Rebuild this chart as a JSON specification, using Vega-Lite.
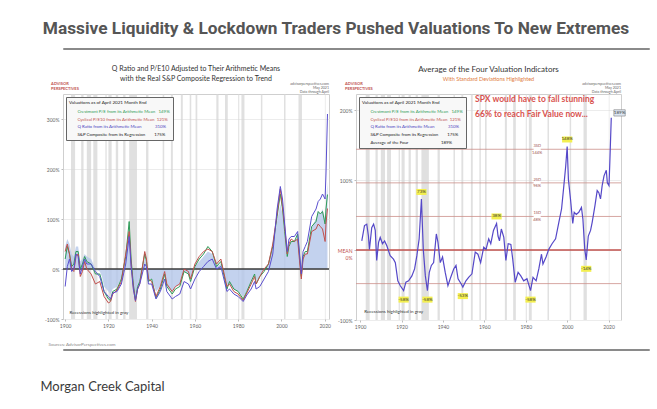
{
"$schema": "https://vega.github.io/schema/vega-lite/v6.json",
"background": "white",
"padding": {"left": 40, "top": 19, "right": 5, "bottom": 5},
"title": {"text": "Massive Liquidity & Lockdown Traders Pushed Valuations To New Extremes", "font": "Roboto", "fontSize": 17.3, "fontWeight": "bold", "color": "#555555", "anchor": "middle", "dx": -9, "offset": 10},
"config": {
  "view": {"stroke": "#cfcfcf"},
  "axis": {"labelFont": "Lato", "labelFontSize": 5, "labelColor": "#666666", "tickSize": 2, "tickColor": "#bbbbbb", "domain": false, "gridColor": "#ececec", "title": null},
  "text": {"font": "Lato"},
  "legend": {"orient": "top-left", "offset": 3, "titleFont": "Lato", "titleFontSize": 4.6, "titleFontWeight": "normal", "titleColor": "#222222", "labelFont": "Lato", "labelFontSize": 4.4, "symbolSize": 0, "symbolOpacity": 0, "symbolStrokeWidth": 0, "fillColor": "#f8f8f8", "strokeColor": "#666666", "padding": 3, "rowPadding": 2.8, "labelLimit": 300, "titleLimit": 300}
},
"datasets": {
  "recessions": [
    {"s":1902.7,"e":1904.6},{"s":1907.4,"e":1908.5},{"s":1910.0,"e":1912.0},{"s":1913.0,"e":1914.9},{"s":1918.6,"e":1919.2},{"s":1920.0,"e":1921.5},{"s":1923.4,"e":1924.5},{"s":1926.8,"e":1927.9},{"s":1929.6,"e":1933.2},{"s":1937.4,"e":1938.5},{"s":1945.1,"e":1945.8},{"s":1948.9,"e":1949.8},{"s":1953.5,"e":1954.4},{"s":1957.6,"e":1958.3},{"s":1960.3,"e":1961.1},{"s":1969.9,"e":1970.9},{"s":1973.9,"e":1975.2},{"s":1980.0,"e":1980.5},{"s":1981.5,"e":1982.9},{"s":1990.5,"e":1991.2},{"s":2001.2,"e":2001.9},{"s":2007.9,"e":2009.5},{"s":2020.1,"e":2020.4}
  ],
  "val": [
    {"year":1900,"crest":20,"pe10":35,"q":-35,"sp":45},
    {"year":1901,"crest":45,"pe10":50,"q":5,"sp":60},
    {"year":1902,"crest":30,"pe10":30,"q":20,"sp":50},
    {"year":1903,"crest":5,"pe10":0,"q":-5,"sp":30},
    {"year":1904,"crest":10,"pe10":-5,"q":0,"sp":25},
    {"year":1905,"crest":35,"pe10":25,"q":30,"sp":45},
    {"year":1906,"crest":35,"pe10":30,"q":25,"sp":45},
    {"year":1907,"crest":0,"pe10":-15,"q":-10,"sp":15},
    {"year":1908,"crest":10,"pe10":-5,"q":5,"sp":20},
    {"year":1909,"crest":25,"pe10":15,"q":20,"sp":30},
    {"year":1910,"crest":15,"pe10":0,"q":10,"sp":25},
    {"year":1912,"crest":10,"pe10":-10,"q":10,"sp":20},
    {"year":1914,"crest":-10,"pe10":-30,"q":-5,"sp":0},
    {"year":1916,"crest":-10,"pe10":-25,"q":-15,"sp":-5},
    {"year":1917,"crest":-25,"pe10":-40,"q":-30,"sp":-15},
    {"year":1918,"crest":-45,"pe10":-55,"q":-45,"sp":-35},
    {"year":1920,"crest":-60,"pe10":-68,"q":-55,"sp":-45},
    {"year":1921,"crest":-63,"pe10":-65,"q":-60,"sp":-50},
    {"year":1922,"crest":-45,"pe10":-50,"q":-48,"sp":-40},
    {"year":1924,"crest":-40,"pe10":-42,"q":-45,"sp":-35},
    {"year":1926,"crest":-20,"pe10":-25,"q":-30,"sp":-20},
    {"year":1928,"crest":25,"pe10":30,"q":10,"sp":20},
    {"year":1929.6,"crest":95,"pe10":75,"q":65,"sp":80},
    {"year":1930.5,"crest":20,"pe10":10,"q":5,"sp":15},
    {"year":1931.5,"crest":-30,"pe10":-35,"q":-40,"sp":-30},
    {"year":1932.5,"crest":-62,"pe10":-65,"q":-63,"sp":-55},
    {"year":1933.5,"crest":-35,"pe10":-40,"q":-40,"sp":-35},
    {"year":1934.5,"crest":-25,"pe10":-30,"q":-30,"sp":-25},
    {"year":1936.8,"crest":30,"pe10":35,"q":10,"sp":20},
    {"year":1937.6,"crest":15,"pe10":20,"q":5,"sp":15},
    {"year":1938.5,"crest":-25,"pe10":-20,"q":-30,"sp":-20},
    {"year":1940,"crest":-20,"pe10":-25,"q":-30,"sp":-20},
    {"year":1942,"crest":-58,"pe10":-55,"q":-60,"sp":-45},
    {"year":1944,"crest":-40,"pe10":-35,"q":-45,"sp":-35},
    {"year":1946,"crest":-10,"pe10":-5,"q":-20,"sp":-15},
    {"year":1947,"crest":-35,"pe10":-30,"q":-45,"sp":-35},
    {"year":1949.5,"crest":-50,"pe10":-45,"q":-60,"sp":-45},
    {"year":1951,"crest":-40,"pe10":-35,"q":-55,"sp":-35},
    {"year":1953,"crest":-35,"pe10":-30,"q":-50,"sp":-30},
    {"year":1955,"crest":-5,"pe10":0,"q":-25,"sp":-5},
    {"year":1957,"crest":-10,"pe10":-5,"q":-30,"sp":-10},
    {"year":1958,"crest":-25,"pe10":-20,"q":-40,"sp":-20},
    {"year":1960,"crest":5,"pe10":10,"q":-20,"sp":5},
    {"year":1962,"crest":20,"pe10":25,"q":-5,"sp":15},
    {"year":1964,"crest":30,"pe10":35,"q":5,"sp":25},
    {"year":1966,"crest":45,"pe10":40,"q":15,"sp":35},
    {"year":1968,"crest":35,"pe10":35,"q":20,"sp":30},
    {"year":1970,"crest":5,"pe10":10,"q":0,"sp":5},
    {"year":1972,"crest":15,"pe10":20,"q":5,"sp":10},
    {"year":1974.8,"crest":-40,"pe10":-35,"q":-45,"sp":-35},
    {"year":1976,"crest":-25,"pe10":-30,"q":-40,"sp":-30},
    {"year":1978,"crest":-40,"pe10":-45,"q":-50,"sp":-40},
    {"year":1980,"crest":-45,"pe10":-50,"q":-55,"sp":-45},
    {"year":1982.3,"crest":-60,"pe10":-63,"q":-65,"sp":-55},
    {"year":1984,"crest":-45,"pe10":-48,"q":-52,"sp":-45},
    {"year":1986,"crest":-25,"pe10":-30,"q":-40,"sp":-25},
    {"year":1987.6,"crest":-10,"pe10":-15,"q":-25,"sp":-10},
    {"year":1988.3,"crest":-30,"pe10":-30,"q":-40,"sp":-25},
    {"year":1990,"crest":-15,"pe10":-15,"q":-35,"sp":-15},
    {"year":1992,"crest":-5,"pe10":0,"q":-20,"sp":0},
    {"year":1994,"crest":10,"pe10":10,"q":-5,"sp":10},
    {"year":1996,"crest":45,"pe10":50,"q":30,"sp":40},
    {"year":1998,"crest":105,"pe10":110,"q":120,"sp":95},
    {"year":1999.5,"crest":150,"pe10":160,"q":165,"sp":130},
    {"year":2000.5,"crest":120,"pe10":125,"q":140,"sp":110},
    {"year":2001.5,"crest":75,"pe10":85,"q":90,"sp":70},
    {"year":2002.7,"crest":25,"pe10":30,"q":35,"sp":25},
    {"year":2003.5,"crest":45,"pe10":50,"q":60,"sp":40},
    {"year":2004.5,"crest":55,"pe10":60,"q":65,"sp":55},
    {"year":2006,"crest":55,"pe10":55,"q":65,"sp":55},
    {"year":2007.5,"crest":70,"pe10":60,"q":75,"sp":65},
    {"year":2008.5,"crest":20,"pe10":10,"q":25,"sp":20},
    {"year":2009.2,"crest":-15,"pe10":-20,"q":-10,"sp":-5},
    {"year":2010,"crest":25,"pe10":20,"q":35,"sp":25},
    {"year":2011,"crest":35,"pe10":30,"q":45,"sp":30},
    {"year":2012,"crest":35,"pe10":30,"q":55,"sp":35},
    {"year":2014,"crest":85,"pe10":75,"q":105,"sp":85},
    {"year":2016,"crest":95,"pe10":80,"q":120,"sp":100},
    {"year":2017,"crest":115,"pe10":90,"q":135,"sp":115},
    {"year":2018,"crest":110,"pe10":85,"q":140,"sp":110},
    {"year":2019,"crest":115,"pe10":80,"q":150,"sp":120},
    {"year":2020.2,"crest":90,"pe10":55,"q":140,"sp":100},
    {"year":2020.6,"crest":120,"pe10":90,"q":190,"sp":130},
    {"year":2021.3,"crest":149,"pe10":121,"q":310,"sp":175}
  ],
  "avg": [
    {"year":1900.8,"pct":13},{"year":1902.1,"pct":35},{"year":1903.2,"pct":37},{"year":1904,"pct":20},{"year":1904.5,"pct":1},{"year":1905.6,"pct":32},{"year":1906.5,"pct":37},{"year":1907.3,"pct":28},{"year":1908,"pct":-15},{"year":1908.9,"pct":11},{"year":1909.7,"pct":18},{"year":1910.8,"pct":9},{"year":1911.8,"pct":13},{"year":1912.9,"pct":6},{"year":1914.5,"pct":-8},{"year":1916.1,"pct":-13},{"year":1917,"pct":-18},{"year":1918.2,"pct":-44},{"year":1919.4,"pct":-51},{"year":1921,"pct":-58},{"year":1922.1,"pct":-46},{"year":1923.4,"pct":-44},{"year":1925,"pct":-37},{"year":1926.3,"pct":-27},{"year":1927.4,"pct":-8},{"year":1928.5,"pct":16},{"year":1929.6,"pct":73},{"year":1930.5,"pct":1},{"year":1931.5,"pct":-37},{"year":1932.5,"pct":-58},{"year":1933.4,"pct":-32},{"year":1934.4,"pct":-22},{"year":1935.5,"pct":-18},{"year":1936.8,"pct":23},{"year":1937.6,"pct":11},{"year":1938.7,"pct":-18},{"year":1939.8,"pct":-10},{"year":1941.1,"pct":-32},{"year":1942.4,"pct":-51},{"year":1943.5,"pct":-41},{"year":1945.2,"pct":-27},{"year":1946.3,"pct":-22},{"year":1947.3,"pct":-41},{"year":1948.9,"pct":-49},{"year":1949.6,"pct":-53},{"year":1951.1,"pct":-44},{"year":1952.4,"pct":-39},{"year":1954,"pct":-34},{"year":1955.6,"pct":-3},{"year":1956.9,"pct":-6},{"year":1958.2,"pct":-18},{"year":1959.7,"pct":4},{"year":1960.8,"pct":1},{"year":1962.1,"pct":16},{"year":1963.1,"pct":9},{"year":1964.4,"pct":28},{"year":1965.9,"pct":38},{"year":1966.6,"pct":20},{"year":1967.3,"pct":13},{"year":1968.2,"pct":30},{"year":1969.4,"pct":18},{"year":1970.4,"pct":-15},{"year":1971.5,"pct":9},{"year":1972.8,"pct":8},{"year":1973.7,"pct":-13},{"year":1974.9,"pct":-46},{"year":1976.3,"pct":-32},{"year":1977.6,"pct":-37},{"year":1979,"pct":-44},{"year":1980.6,"pct":-41},{"year":1982.3,"pct":-58},{"year":1983.5,"pct":-39},{"year":1985,"pct":-44},{"year":1986.3,"pct":-27},{"year":1987.6,"pct":-6},{"year":1988.3,"pct":-20},{"year":1989.8,"pct":-10},{"year":1991.1,"pct":1},{"year":1992.7,"pct":9},{"year":1994.4,"pct":16},{"year":1996,"pct":40},{"year":1997.3,"pct":59},{"year":1998.4,"pct":92},{"year":1999.3,"pct":120},{"year":2000.0,"pct":148},{"year":2000.6,"pct":101},{"year":2001.6,"pct":73},{"year":2002.7,"pct":38},{"year":2003.4,"pct":54},{"year":2004.4,"pct":51},{"year":2005.6,"pct":54},{"year":2006.9,"pct":61},{"year":2007.6,"pct":44},{"year":2008.5,"pct":1},{"year":2009.2,"pct":-14},{"year":2010.2,"pct":20},{"year":2011.3,"pct":28},{"year":2012.1,"pct":40},{"year":2013.4,"pct":63},{"year":2014.5,"pct":85},{"year":2015.3,"pct":82},{"year":2016.1,"pct":73},{"year":2016.9,"pct":92},{"year":2017.8,"pct":106},{"year":2018.9,"pct":114},{"year":2019.4,"pct":96},{"year":2020.2,"pct":92},{"year":2020.6,"pct":125},{"year":2021.3,"pct":189}
  ],
  "callouts": [
    {"year":1929.6,"pct":73,"kind":"peak","label":"73%"},
    {"year":1965.9,"pct":38,"kind":"peak","label":"38%"},
    {"year":2000.0,"pct":148,"kind":"peak","label":"148%"},
    {"year":1921,"pct":-58,"kind":"trough","label":"-58%"},
    {"year":1932.5,"pct":-58,"kind":"trough","label":"-58%"},
    {"year":1949.6,"pct":-53,"kind":"trough","label":"-53%"},
    {"year":1982.3,"pct":-58,"kind":"trough","label":"-58%"},
    {"year":2009.2,"pct":-14,"kind":"trough","label":"-14%"}
  ],
  "sd": [
    {"sd":"-1SD","pct":-48,"lbl":"-48%"},
    {"sd":"1SD","pct":48,"lbl":"48%"},
    {"sd":"2SD","pct":96,"lbl":"96%"},
    {"sd":"3SD","pct":144,"lbl":"144%"}
  ],
  "source": [
    {"site":["advisorperspectives.com","May 2021","Data through April"],"brand":["ADVISOR","PERSPECTIVES"]}
  ]
},
"spacing": 14,
"vconcat": [
  {"width": 586, "height": 1, "view": {"stroke": "#8a8a8a", "strokeWidth": 1}, "data": {"values": [{}]}, "mark": {"type": "rule", "opacity": 0}, "encoding": {}},
  {"spacing": 2, "vconcat": [
    {"spacing": 4, "resolve": {"scale": {"color": "independent"}, "legend": {"color": "independent"}},
     "hconcat": [
      {"width": 266, "height": 225,
       "title": {"text": ["Q Ratio and P/E10 Adjusted to Their Arithmetic Means", "with the Real S&P Composite Regression to Trend"], "font": "Lato", "fontSize": 7, "lineHeight": 10, "fontWeight": "normal", "color": "#333333", "offset": 0, "anchor": "middle"},
       "layer": [
        {"data": {"name": "recessions"}, "mark": {"type": "rect", "color": "#d6d6d6", "opacity": 0.75},
         "encoding": {
          "x": {"field": "s", "type": "quantitative", "scale": {"domain": [1899, 2022], "nice": false, "zero": false},
                "axis": {"values": [1900,1910,1920,1930,1940,1950,1960,1970,1980,1990,2000,2010,2020], "format": "d", "grid": false, "title": "Sources: AdvisorPerspectives.com", "titleFont": "Lato", "titleFontSize": 4.5, "titleFontWeight": "normal", "titleColor": "#888888", "titleAnchor": "start", "titleAlign": "left", "titleX": -15, "titleY": 22}},
          "x2": {"field": "e"}}},
        {"data": {"name": "val"}, "mark": {"type": "area", "opacity": 0.8},
         "encoding": {
          "x": {"field": "year", "type": "quantitative"},
          "y": {"field": "sp", "type": "quantitative", "scale": {"domain": [-100, 350], "nice": false},
                "axis": {"values": [-100,-50,0,50,100,150,200,250,300,350], "labelExpr": "datum.value + '%'", "minExtent": 20, "maxExtent": 20, "grid": true}},
          "y2": {"datum": 0},
          "color": {"datum": "sp"}}},
        {"data": {"values": [{}]}, "mark": {"type": "rule", "color": "#3a3a3a", "strokeWidth": 1.3}, "encoding": {"y": {"datum": 0}}},
        {"data": {"name": "val"}, "transform": [{"fold": ["crest", "pe10", "q"], "as": ["series", "pct"]}],
         "mark": {"type": "line", "strokeWidth": 1},
         "encoding": {
          "x": {"field": "year", "type": "quantitative"},
          "y": {"field": "pct", "type": "quantitative"},
          "color": {"field": "series", "type": "nominal",
                    "scale": {"domain": ["crest", "pe10", "q", "sp"], "range": ["#2e9b57", "#c0504d", "#5a4fcf", "#b4c7ea"]},
                    "legend": {"title": "Valuations as of April 2021 Month End",
                               "labelExpr": "datum.value == 'crest' ? 'Crestmont P/E from its Arithmetic Mean\u00a0\u00a0\u00a0149%' : datum.value == 'pe10' ? 'Cyclical P/E10 from its Arithmetic Mean\u00a0\u00a0121%' : datum.value == 'q' ? 'Q Ratio from its Arithmetic Mean\u00a0\u00a0\u00a0\u00a0\u00a0\u00a0\u00a0\u00a0\u00a0\u00a0\u00a0\u00a0310%' : 'S&P Composite from its Regression\u00a0\u00a0\u00a0\u00a0\u00a0\u00a0\u00a0\u00a0175%'",
                               "labelColor": {"expr": "datum.value == 'crest' ? '#2e9b57' : datum.value == 'pe10' ? '#c0504d' : datum.value == 'q' ? '#4b3fc0' : '#222222'"}}}}},
        {"data": {"values": [{"t": "Recessions highlighted in gray"}]}, "mark": {"type": "text", "fontSize": 4.5, "color": "#333333", "align": "left"},
         "encoding": {"x": {"datum": 1902}, "y": {"datum": -88}, "text": {"field": "t"}}},
        {"data": {"name": "source"}, "mark": {"type": "text", "fontSize": 3.6, "color": "#666666", "align": "right", "baseline": "top", "lineHeight": 4, "clip": false},
         "encoding": {"x": {"datum": 2022}, "y": {"datum": 374}, "text": {"field": "site"}}},
        {"data": {"name": "source"}, "mark": {"type": "text", "fontSize": 4, "fontWeight": "bold", "color": "#c0504d", "align": "left", "baseline": "top", "lineHeight": 4.5, "clip": false},
         "encoding": {"x": {"datum": 1893.5}, "y": {"datum": 374}, "text": {"field": "brand"}}}
       ]},
      {"width": 265, "height": 226,
       "title": {"text": "Average of the Four Valuation Indicators", "subtitle": "With Standard Deviations Highlighted", "font": "Lato", "fontSize": 8, "fontWeight": "normal", "color": "#333333", "subtitleFont": "Lato", "subtitleFontSize": 5.5, "subtitleColor": "#e07b3c", "subtitlePadding": 3, "offset": 0, "anchor": "middle"},
       "layer": [
        {"data": {"name": "recessions"}, "mark": {"type": "rect", "color": "#d6d6d6", "opacity": 0.75},
         "encoding": {
          "x": {"field": "s", "type": "quantitative", "scale": {"domain": [1898, 2026], "nice": false, "zero": false},
                "axis": {"values": [1900,1910,1920,1930,1940,1950,1960,1970,1980,1990,2000,2010,2020], "format": "d", "grid": false}},
          "x2": {"field": "e"}}},
        {"data": {"name": "sd"}, "mark": {"type": "rule", "color": "#cc8f8a", "strokeWidth": 0.8},
         "encoding": {"y": {"field": "pct", "type": "quantitative", "scale": {"domain": [-100, 223], "nice": false},
                "axis": {"values": [-100,-50,0,50,100,150,200], "labelExpr": "datum.value == 0 ? ['MEAN', '0%'] : datum.value + '%'", "labelColor": {"expr": "datum.value == 0 ? '#c0504d' : '#666666'"}, "minExtent": 20, "maxExtent": 20, "grid": true}}}},
        {"data": {"values": [{}]}, "mark": {"type": "rule", "color": "#c0504d", "strokeWidth": 1.5}, "encoding": {"y": {"datum": 0}}},
        {"data": {"name": "avg"}, "mark": {"type": "line", "strokeWidth": 1.2},
         "encoding": {
          "x": {"field": "year", "type": "quantitative"},
          "y": {"field": "pct", "type": "quantitative"},
          "color": {"datum": "avg", "type": "nominal",
                    "scale": {"domain": ["crest", "pe10", "q", "sp", "avg"], "range": ["#2e9b57", "#c0504d", "#5a4fcf", "#333333", "#5548c8"]},
                    "legend": {"title": "Valuations as of April 2021 Month End",
                               "labelExpr": "datum.value == 'crest' ? 'Crestmont P/E from its Arithmetic Mean\u00a0\u00a0\u00a0149%' : datum.value == 'pe10' ? 'Cyclical P/E10 from its Arithmetic Mean\u00a0\u00a0121%' : datum.value == 'q' ? 'Q Ratio from its Arithmetic Mean\u00a0\u00a0\u00a0\u00a0\u00a0\u00a0\u00a0\u00a0\u00a0\u00a0\u00a0\u00a0310%' : datum.value == 'sp' ? 'S&P Composite from its Regression\u00a0\u00a0\u00a0\u00a0\u00a0\u00a0\u00a0\u00a0175%' : 'Average of the Four\u00a0\u00a0\u00a0\u00a0\u00a0\u00a0\u00a0\u00a0\u00a0\u00a0\u00a0\u00a0\u00a0\u00a0\u00a0\u00a0\u00a0\u00a0\u00a0\u00a0\u00a0\u00a0\u00a0\u00a0\u00a0\u00a0\u00a0\u00a0\u00a0189%'",
                               "labelColor": {"expr": "datum.value == 'crest' ? '#2e9b57' : datum.value == 'pe10' ? '#c0504d' : datum.value == 'q' ? '#4b3fc0' : '#222222'"}}}}},
        {"data": {"name": "sd"}, "transform": [{"filter": "datum.pct > 0"}], "mark": {"type": "point", "shape": "M-1,-1.4L1,-1.4L1,1.4L-1,1.4Z", "filled": true, "color": "white", "opacity": 1, "size": 50},
         "encoding": {"x": {"datum": 1985.5}, "y": {"field": "pct", "type": "quantitative"}}},
        {"data": {"name": "sd"}, "transform": [{"filter": "datum.pct > 0"}], "mark": {"type": "text", "fontSize": 4, "color": "#a0524d", "dy": -3},
         "encoding": {"x": {"datum": 1985.5}, "y": {"field": "pct", "type": "quantitative"}, "text": {"field": "sd"}}},
        {"data": {"name": "sd"}, "transform": [{"filter": "datum.pct > 0"}], "mark": {"type": "text", "fontSize": 4, "color": "#a0524d", "dy": 3.5},
         "encoding": {"x": {"datum": 1985.5}, "y": {"field": "pct", "type": "quantitative"}, "text": {"field": "lbl"}}},
        {"data": {"name": "callouts"}, "transform": [{"filter": "datum.kind == 'peak'"}], "mark": {"type": "point", "shape": "M-1.7,-1L1.7,-1L1.7,1L-1.7,1Z", "filled": true, "color": "#f3ef4f", "opacity": 1, "size": 36, "yOffset": -7},
         "encoding": {"x": {"field": "year", "type": "quantitative"}, "y": {"field": "pct", "type": "quantitative"}}},
        {"data": {"name": "callouts"}, "transform": [{"filter": "datum.kind == 'peak'"}], "mark": {"type": "text", "fontSize": 4.5, "color": "#333333", "dy": -7},
         "encoding": {"x": {"field": "year", "type": "quantitative"}, "y": {"field": "pct", "type": "quantitative"}, "text": {"field": "label"}}},
        {"data": {"name": "callouts"}, "transform": [{"filter": "datum.kind == 'trough'"}], "mark": {"type": "point", "shape": "M-1.7,-1L1.7,-1L1.7,1L-1.7,1Z", "filled": true, "color": "#f3ef4f", "opacity": 1, "size": 36, "yOffset": 9},
         "encoding": {"x": {"field": "year", "type": "quantitative"}, "y": {"field": "pct", "type": "quantitative"}}},
        {"data": {"name": "callouts"}, "transform": [{"filter": "datum.kind == 'trough'"}], "mark": {"type": "text", "fontSize": 4.5, "color": "#333333", "dy": 9},
         "encoding": {"x": {"field": "year", "type": "quantitative"}, "y": {"field": "pct", "type": "quantitative"}, "text": {"field": "label"}}},
        {"data": {"values": [{"t": "189%"}]}, "mark": {"type": "point", "shape": "M-1.8,-1L1.8,-1L1.8,1L-1.8,1Z", "filled": true, "fill": "#dce6f2", "stroke": "#7f7f7f", "strokeWidth": 0.6, "opacity": 1, "size": 40},
         "encoding": {"x": {"datum": 2025.3}, "y": {"datum": 196}}},
        {"data": {"values": [{"t": "189%"}]}, "mark": {"type": "text", "fontSize": 4.5, "color": "#333333"},
         "encoding": {"x": {"datum": 2025.3}, "y": {"datum": 196}, "text": {"field": "t"}}},
        {"data": {"values": [{"t": "SPX"}]}, "mark": {"type": "text", "text": ["SPX would have to fall stunning", "66% to reach Fair Value now..."], "font": "Lato", "fontSize": 8.5, "fontWeight": "bold", "color": "#d9534f", "align": "left", "baseline": "top", "lineHeight": 15},
         "encoding": {"x": {"datum": 1955.5}, "y": {"datum": 221}}},
        {"data": {"values": [{"t": "Recessions highlighted in gray"}]}, "mark": {"type": "text", "fontSize": 4.5, "color": "#333333", "align": "left"},
         "encoding": {"x": {"datum": 1902}, "y": {"datum": -88}, "text": {"field": "t"}}},
        {"data": {"name": "source"}, "mark": {"type": "text", "fontSize": 3.6, "color": "#666666", "align": "right", "baseline": "top", "lineHeight": 4, "clip": false},
         "encoding": {"x": {"datum": 2026}, "y": {"datum": 240}, "text": {"field": "site"}}},
        {"data": {"name": "source"}, "mark": {"type": "text", "fontSize": 4, "fontWeight": "bold", "color": "#c0504d", "align": "left", "baseline": "top", "lineHeight": 4.5, "clip": false},
         "encoding": {"x": {"datum": 1892.7}, "y": {"datum": 240}, "text": {"field": "brand"}}}
       ]}
     ]},
    {"width": 586, "height": 1, "view": {"stroke": "#8a8a8a", "strokeWidth": 1}, "data": {"values": [{}]}, "mark": {"type": "rule", "opacity": 0}, "encoding": {}}
  ]},
  {"width": 586, "height": 1, "view": {"stroke": null}, "data": {"values": [{}]}, "mark": {"type": "rule", "opacity": 0}, "encoding": {},
   "title": {"text": "Morgan Creek Capital", "orient": "bottom", "anchor": "start", "font": "Lato", "fontSize": 13, "fontWeight": "normal", "color": "#3a3a3a", "offset": 14, "dx": -22}}
]
}
